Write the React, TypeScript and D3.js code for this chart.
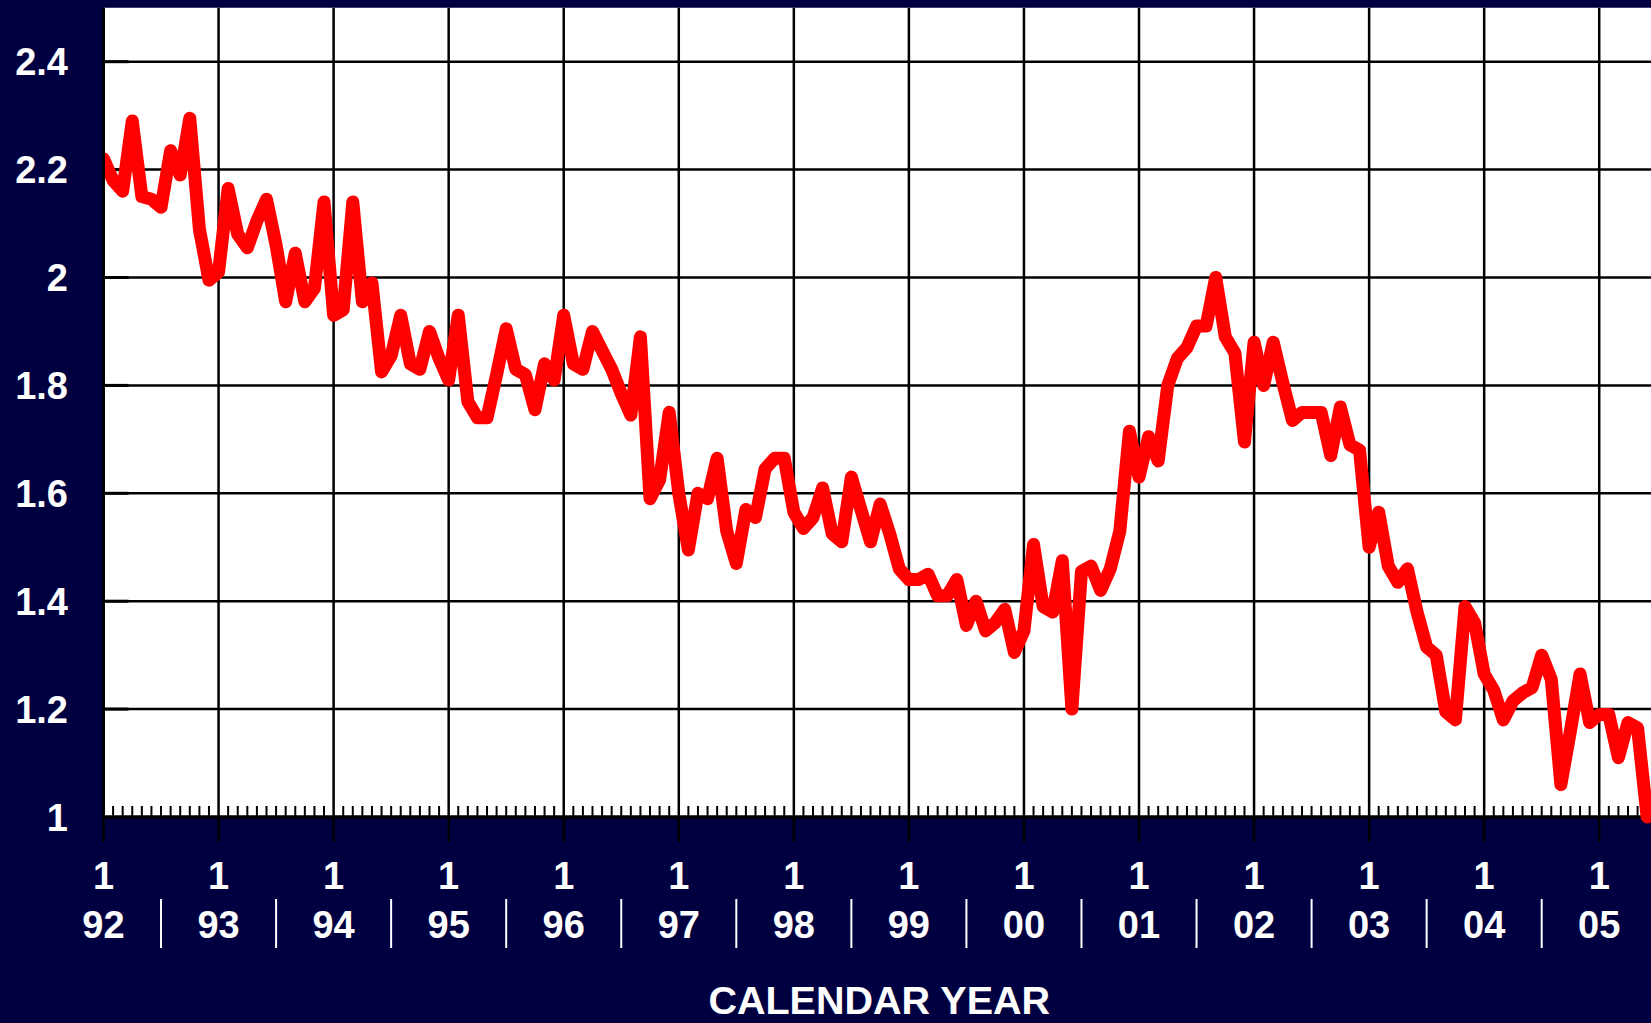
import React from "react";
import * as d3 from "d3";

const values: number[] = [
  2.22, 2.18, 2.16, 2.29, 2.15, 2.145, 2.13, 2.235, 2.19, 2.295, 2.09, 1.995,
  2.01, 2.165, 2.08, 2.055, 2.105, 2.145, 2.06, 1.955, 2.045, 1.955, 1.98, 2.14,
  1.93, 1.94, 2.14, 1.955, 1.99, 1.825, 1.855, 1.93, 1.84, 1.83, 1.9, 1.85,
  1.81, 1.93, 1.77, 1.74, 1.74, 1.82, 1.905, 1.83, 1.82, 1.755, 1.84, 1.81,
  1.93, 1.84, 1.83, 1.9, 1.865, 1.83, 1.785, 1.745, 1.89, 1.59, 1.625, 1.75,
  1.6, 1.495, 1.6, 1.59, 1.665, 1.53, 1.47, 1.57, 1.555, 1.645, 1.665, 1.665,
  1.565, 1.535, 1.555, 1.61, 1.525, 1.51, 1.63, 1.57, 1.51, 1.58, 1.525, 1.46,
  1.44, 1.44, 1.45, 1.41, 1.41, 1.44, 1.355, 1.4, 1.345, 1.36, 1.385, 1.305,
  1.345, 1.505, 1.39, 1.38, 1.475, 1.2, 1.455, 1.465, 1.42, 1.46, 1.53, 1.715,
  1.63, 1.705, 1.66, 1.8, 1.85, 1.87, 1.91, 1.91, 2.0, 1.89, 1.86, 1.695,
  1.88, 1.8, 1.88, 1.805, 1.735, 1.75, 1.75, 1.75, 1.67, 1.76, 1.69, 1.68,
  1.5, 1.565, 1.465, 1.435, 1.46, 1.38, 1.315, 1.3, 1.195, 1.18, 1.39, 1.36,
  1.265, 1.235, 1.18, 1.215, 1.23, 1.24, 1.3, 1.255, 1.06, 1.16, 1.265, 1.175,
  1.19, 1.19, 1.11, 1.175, 1.165, 1.0,
];

const yTicks: number[] = [1, 1.2, 1.4, 1.6, 1.8, 2, 2.2, 2.4];
const yTickLabels: string[] = ["1", "1.2", "1.4", "1.6", "1.8", "2", "2.2", "2.4"];
const yearLabels: string[] = ["92", "93", "94", "95", "96", "97", "98", "99", "00", "01", "02", "03", "04", "05"];
const monthLabel = "1";
const axisTitle = "CALENDAR YEAR";

const W = 1651;
const H = 1023;
const NAVY = "#000040";
const FONT = "'Liberation Sans', Arial, Helvetica, sans-serif";

export default function App() {
  const left = 103.5;
  const right = 1651;
  const bottom = 817;
  const x = d3.scaleLinear().domain([0, 161.4]).range([left, right]);
  const y = d3.scaleLinear().domain([1, 2.5]).range([bottom, bottom - 1.5 * 539.5]);
  const top = y(2.5);

  const line = d3
    .line<number>()
    .x((_, i) => x(i))
    .y((d) => y(d));

  const monthIdx = d3.range(0, 162);
  const yearIdx = yearLabels.map((_, k) => k * 12);

  return (
    <svg
      width={W}
      height={H}
      style={{ position: "absolute", left: 0, top: 0, display: "block" }}
      fontFamily={FONT}
    >
      <defs>
        <clipPath id="plotclip">
          <rect x={left + 1.5} y={0} width={right - left} height={H} />
        </clipPath>
      </defs>
      <rect x={0} y={0} width={W} height={H} fill={NAVY} />
      <rect x={left} y={top} width={right - left} height={bottom - top} fill="#fff" />

      {/* horizontal grid */}
      {yTicks.slice(1).map((t) => (
        <g key={"h" + t}>
          <line x1={left} x2={right} y1={y(t)} y2={y(t)} stroke="#000" strokeWidth={2.5} />
          <line x1={left} x2={left + 25} y1={y(t)} y2={y(t)} stroke="#000" strokeWidth={3} />
        </g>
      ))}

      {/* vertical year grid + major ticks */}
      {yearIdx.map((m) => (
        <line key={"v" + m} x1={x(m)} x2={x(m)} y1={top} y2={bottom + 25} stroke="#000" strokeWidth={2.5} />
      ))}

      {/* minor monthly ticks */}
      {monthIdx
        .filter((m) => m % 12 !== 0)
        .map((m) => (
          <line key={"m" + m} x1={x(m)} x2={x(m)} y1={bottom - 11} y2={bottom} stroke="#000" strokeWidth={2} />
        ))}

      {/* baseline */}
      <line x1={left} x2={right} y1={bottom} y2={bottom} stroke="#000" strokeWidth={3.5} />

      {/* data line */}
      <path
        d={line(values) || ""}
        fill="none"
        stroke="#ff0000"
        strokeWidth={13}
        strokeLinejoin="round"
        strokeLinecap="round"
        clipPath="url(#plotclip)"
      />

      {/* left axis */}
      <line x1={left} x2={left} y1={top} y2={bottom + 2} stroke="#000" strokeWidth={3} />

      {/* y labels */}
      {yTicks.map((t, k) => (
        <text
          key={"yl" + t}
          x={68}
          y={y(t)}
          dy="0.36em"
          textAnchor="end"
          fill="#fff"
          fontSize={38}
          fontWeight="bold"
        >
          {yTickLabels[k]}
        </text>
      ))}

      {/* x labels */}
      {yearIdx.map((m, k) => (
        <g key={"xl" + m}>
          <text x={x(m)} y={889} textAnchor="middle" fill="#fff" fontSize={38} fontWeight="bold">
            {monthLabel}
          </text>
          <text x={x(m)} y={938} textAnchor="middle" fill="#fff" fontSize={38} fontWeight="bold">
            {yearLabels[k]}
          </text>
        </g>
      ))}

      {/* separators between years */}
      {yearIdx.slice(0, -1).map((m) => (
        <line key={"s" + m} x1={x(m + 6)} x2={x(m + 6)} y1={899} y2={948} stroke="#fff" strokeWidth={2} />
      ))}

      <text x={(left + right) / 2 + 2} y={1014} textAnchor="middle" fill="#fff" fontSize={39.5} fontWeight="bold">
        {axisTitle}
      </text>
    </svg>
  );
}
